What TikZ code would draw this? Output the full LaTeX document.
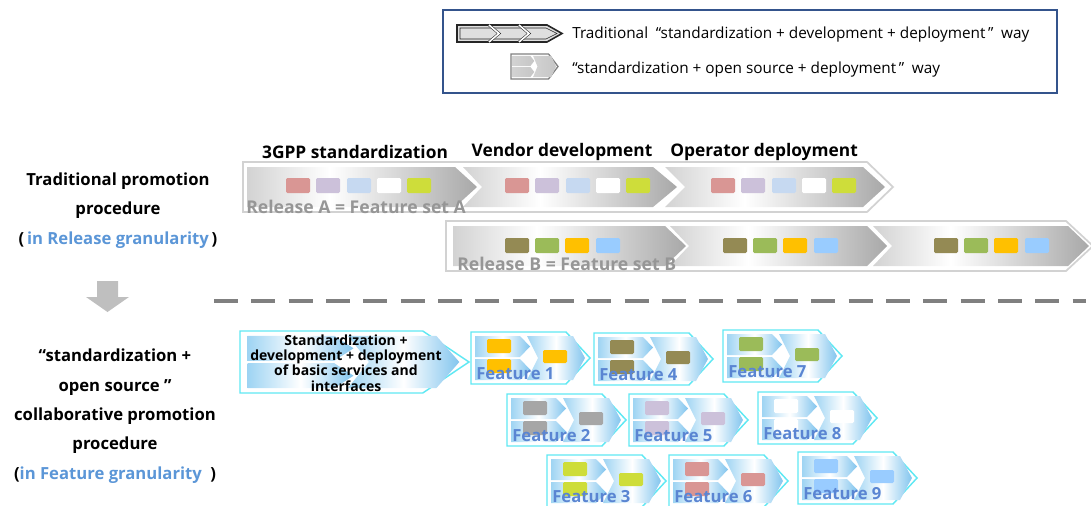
\documentclass[tikz,border=0pt]{standalone}
\usepackage{fontspec}
\setmainfont{Open Sans}
\usepackage{tikz}

\definecolor{sqpink}{RGB}{217,150,148}
\definecolor{sqlav}{RGB}{204,193,218}
\definecolor{sqice}{RGB}{198,217,241}
\definecolor{sqlime}{RGB}{206,221,58}
\definecolor{sqolive}{RGB}{148,138,84}
\definecolor{sqgreen}{RGB}{155,187,89}
\definecolor{sqamber}{RGB}{255,192,0}
\definecolor{sqsky}{RGB}{153,204,255}
\definecolor{sqgray}{RGB}{166,166,166}
\definecolor{tagblue}{RGB}{90,133,210}
\definecolor{lblue}{RGB}{91,150,215}
\definecolor{aqua}{RGB}{95,232,243}
\definecolor{chevL}{RGB}{158,212,243}
\definecolor{chevR}{RGB}{130,197,238}
\definecolor{boxline}{RGB}{52,84,140}
\definecolor{reltext}{RGB}{150,150,150}

\pgfdeclarehorizontalshading{greyfade}{100bp}{color(0bp)=(gray!35); color(25bp)=(gray!35);
  color(43bp)=(white); color(75bp)=(gray!68); color(100bp)=(gray!68)}
\pgfdeclarehorizontalshading{bluefade}{100bp}{color(0bp)=(chevL); color(25bp)=(chevL);
  color(50bp)=(white); color(75bp)=(chevR); color(100bp)=(chevR)}

% x0, notch x, arrow start, tip, top, bottom
\newcommand\graychev[6]{%
  \shade[chevgray] (#1,#5) -- (#3,#5) -- (#4,{(#5+#6)/2}) -- (#3,#6)
    -- (#1,#6) -- (#2,{(#5+#6)/2}) -- cycle;}

% origin, scaling, frame style, chevron style
\newcommand\twinbox[4]{%
  \begin{scope}[shift={#1},#2]
    \draw[#3] (0,0) -- (95,0) -- (119,26) -- (95,52) -- (0,52) -- cycle;
    \shade[#4] (4,4) -- (49,4) -- (59,14.5) -- (49,25) -- (4,25) -- cycle;
    \shade[#4] (4,27) -- (49,27) -- (59,37.5) -- (49,48) -- (4,48) -- cycle;
    \shade[#4] (56,4) -- (102,4) -- (114,26) -- (102,48) -- (56,48) -- (67,26) -- cycle;
  \end{scope}}

\begin{document}
\begin{tikzpicture}[x=0.75pt,y=-0.75pt,inner sep=0pt,
    chevgray/.style={shading=greyfade},
    chevblue/.style={shading=bluefade},
    chevpale/.style={left color=gray!35,middle color=gray!12,right color=gray!45},
    rowframe/.style={draw=gray!35,line width=1.3pt},
    aquaframe/.style={draw=aqua,line width=1.1pt},
    sq/.style={rounded corners=1pt},
    head/.style={font=\bfseries\fontsize{13}{15}\selectfont},
    side/.style={align=center,font=\bfseries\fontsize{12.5}{22}\selectfont},
    reltag/.style={anchor=west,text=reltext,font=\bfseries\fontsize{13.2}{15}\selectfont},
    feattag/.style={anchor=west,text=tagblue,font=\bfseries\fontsize{12.5}{14}\selectfont},
    basic/.style={align=center,font=\bfseries\fontsize{10.5}{11.5}\selectfont},
    legtxt/.style={anchor=west,font=\fontsize{11.5}{13}\selectfont}]
  \useasboundingbox (0,0) rectangle (1091,506);

  % legend
  \draw[boxline,line width=0.8pt] (443,10) rectangle (1057,93);
  \filldraw[fill=gray!25,draw=black!85,line width=1.2pt]
    (457,25) -- (547,25) -- (562,33.5) -- (547,42) -- (457,42) -- cycle;
  \draw[black!85,line width=0.4pt]
    (460,28) -- (546,28) -- (557,33.5) -- (546,39) -- (460,39) -- cycle;
  \foreach \cx in {489,519}
    \draw[draw=black!85,double=white,double distance=1.2pt,line width=0.4pt]
      (\cx,25) -- (\cx+10,33.5) -- (\cx,42);
  \twinbox{(511,54)}{xscale=0.395,yscale=0.48}{draw=gray,line width=1pt}{chevpale}
  \node[legtxt] (lgold) at (572,35)
    {Traditional\enspace“standardization + development + deployment\,”\enspace way};
  \node[legtxt] (lgnew) at (572,70)
    {“standardization + open source + deployment\,”\enspace way};

  % release rows
  \node[head] (hstd) at (355,152) {3GPP standardization};
  \node[head] (hven) at (562,152) {Vendor development};
  \node[head] (hope) at (764,152) {Operator deployment};

  \draw[rowframe] (243,162) -- (867,162) -- (893,187) -- (867,212) -- (243,212) -- cycle;
  \graychev{247}{247}{455}{477}{167}{207}
  \graychev{463}{482}{653}{677}{167}{207}
  \graychev{665}{685}{863}{885}{167}{207}
  \foreach \gx in {0,219,425}
    \foreach \sx/\sc in {286/sqpink,316/sqlav,347/sqice,377/white,407/sqlime}
      \fill[sq,\sc] (\gx+\sx,178) rectangle ++(24,15);
  \node[reltag] (relA) at (246,207) {Release A = Feature set A};

  \draw[rowframe] (446,221) -- (1066,221) -- (1093,246) -- (1066,271) -- (446,271) -- cycle;
  \graychev{453}{453}{665}{686}{226}{266}
  \graychev{670}{689}{867}{887}{226}{266}
  \graychev{873}{892}{1068}{1089}{226}{266}
  \foreach \gx in {0,218,429}
    \foreach \sx/\sc in {505/sqolive,535/sqgreen,565/sqamber,596/sqsky}
      \fill[sq,\sc] (\gx+\sx,238) rectangle ++(24,15);
  \node[reltag] (relB) at (457,264) {Release B = Feature set B};

  \node[side] (oldway) at (118,210.5)
    {Traditional promotion\\procedure\\(\,\textcolor{lblue}{in Release granularity}\,)};
  \fill[gray!50] (97,281) -- (118,281) -- (118,297) -- (129,297) -- (107.5,312)
    -- (86,297) -- (97,297) -- cycle;
  \draw[gray,line width=3.4pt,dash pattern=on 18pt off 10pt] (214,301) -- (1086,301);

  % feature rows
  \node[side] (newway) at (115,416)
    {“standardization +\\open source ”\\collaborative promotion\\procedure\\(\textcolor{lblue}{in Feature granularity}\enspace)};
  \twinbox{(240,331)}{xscale=1.924,yscale=1.192}{aquaframe}{chevblue}
  \node[basic] (basics) at (346,363)
    {Standardization +\\development + deployment\\of basic services and\\interfaces};

  \foreach \fx/\fy/\fc/\fn in {471/332/sqamber/1,507/394/sqgray/2,547/455/sqlime/3,
      594/333/sqolive/4,629/394/sqlav/5,669/455/sqpink/6,
      723/330/sqgreen/7,758/392/white/8,798/452/sqsky/9}{
    \twinbox{(\fx,\fy)}{}{aquaframe}{chevblue}
    \fill[sq,\fc] (\fx+16,\fy+7) rectangle ++(24,14);
    \fill[sq,\fc] (\fx+16,\fy+27) rectangle ++(24,14);
    \fill[sq,\fc] (\fx+72,\fy+18) rectangle ++(24,13);
    \node[feattag] (feat\fn) at (\fx+5,\fy+42) {Feature \fn};
  }
\end{tikzpicture}
\end{document}
